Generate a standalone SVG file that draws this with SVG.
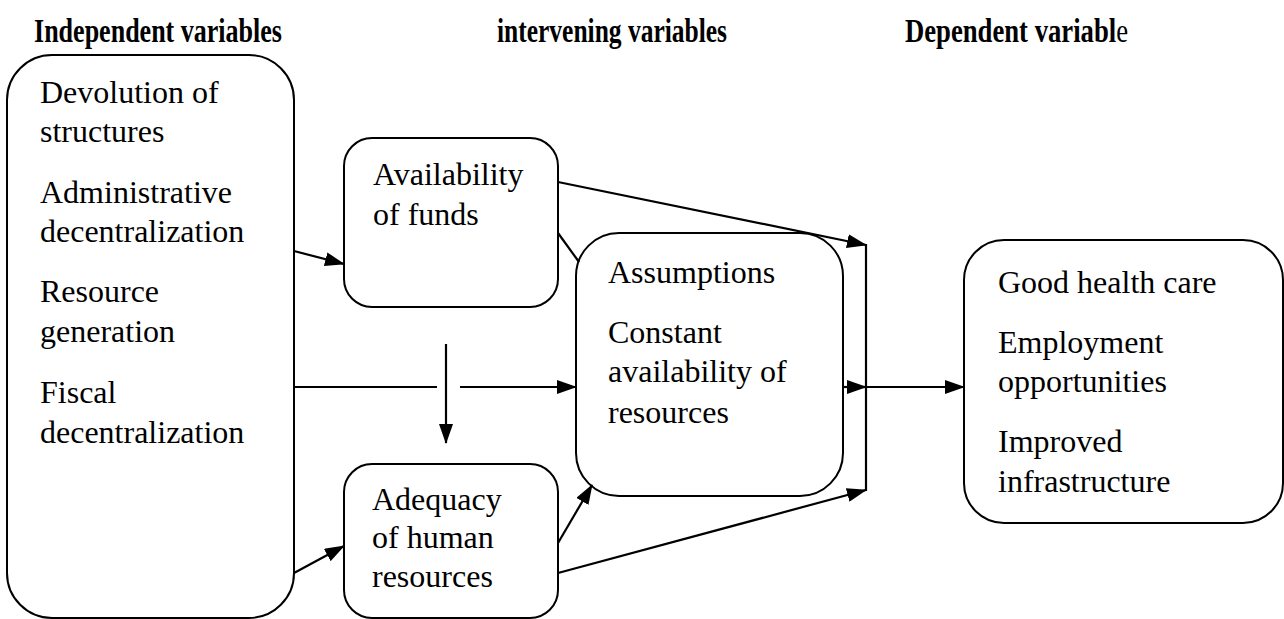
<svg xmlns="http://www.w3.org/2000/svg" width="1284" height="619" viewBox="0 0 1284 619">
<style>
.box{fill:#fff;stroke:#000;stroke-width:2}
.c{stroke:#000;stroke-width:2.2;fill:none}
.a{marker-end:url(#arr)}
</style>
<defs>
<marker id="arr" viewBox="0 0 20 14" refX="19" refY="7" markerWidth="20" markerHeight="14" markerUnits="userSpaceOnUse" orient="auto">
<path d="M0,0 L20,7 L0,14 Z" fill="#000"/>
</marker>
</defs>
<rect width="1284" height="619" fill="#fff"/>
<g id="headers" font-family="Liberation Serif, Times New Roman, serif" font-size="33" font-weight="bold" fill="#000">
<text x="34" y="42" textLength="248" lengthAdjust="spacingAndGlyphs">Independent variables</text>
<text x="497" y="42" textLength="230" lengthAdjust="spacingAndGlyphs">intervening variables</text>
<text x="905" y="42" textLength="223" lengthAdjust="spacingAndGlyphs">Dependent variabl<tspan font-weight="normal">e</tspan></text>
</g>
<g font-family="Liberation Serif, Times New Roman, serif" font-size="32" fill="#000">
<g id="independent">
<rect class="box" x="7" y="55" width="287" height="563" rx="45"/>
<text x="40" y="103">Devolution of</text>
<text x="40" y="142">structures</text>
<text x="40" y="203">Administrative</text>
<text x="40" y="242">decentralization</text>
<text x="40" y="302">Resource</text>
<text x="40" y="342">generation</text>
<text x="40" y="403">Fiscal</text>
<text x="40" y="443">decentralization</text>
</g>
<g id="funds">
<rect class="box" x="344" y="138" width="214" height="169" rx="28"/>
<text x="373" y="185">Availability</text>
<text x="373" y="225">of funds</text>
</g>
<g id="human">
<rect class="box" x="344" y="464" width="214" height="154" rx="28"/>
<text x="372" y="510">Adequacy</text>
<text x="372" y="548">of human</text>
<text x="372" y="587">resources</text>
</g>
<g id="assumptions">
<rect class="box" x="576" y="233" width="267" height="263" rx="43"/>
<text x="608" y="283">Assumptions</text>
<text x="608" y="343">Constant</text>
<text x="608" y="382">availability of</text>
<text x="608" y="423">resources</text>
</g>
<g id="dependent">
<rect class="box" x="964" y="240" width="319" height="283" rx="40"/>
<text x="998" y="293">Good health care</text>
<text x="998" y="353">Employment</text>
<text x="998" y="392">opportunities</text>
<text x="998" y="452">Improved</text>
<text x="998" y="492">infrastructure</text>
</g>
</g>
<g id="connectors">
<line class="c a" x1="294" y1="251" x2="344" y2="264"/>
<line class="c" x1="294" y1="387" x2="437" y2="387"/>
<line class="c a" x1="460" y1="387" x2="576" y2="387"/>
<line class="c a" x1="446" y1="344" x2="446" y2="443"/>
<line class="c a" x1="558" y1="182" x2="866" y2="245"/>
<line class="c" x1="558" y1="233" x2="579" y2="262"/>
<line class="c" x1="866" y1="244" x2="866" y2="491"/>
<line class="c a" x1="843" y1="387" x2="866" y2="387"/>
<line class="c a" x1="866" y1="387" x2="964" y2="387"/>
<line class="c a" x1="294" y1="573" x2="344" y2="546"/>
<line class="c a" x1="558" y1="543" x2="592" y2="485"/>
<line class="c a" x1="558" y1="573" x2="866" y2="490"/>
</g>
</svg>
